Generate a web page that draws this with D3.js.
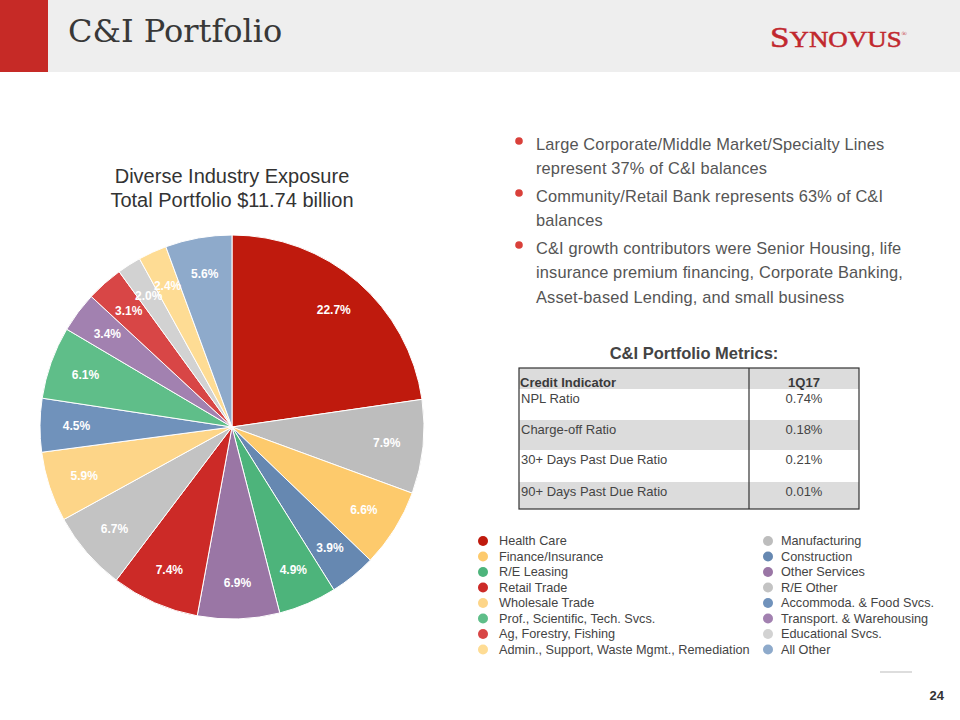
<!DOCTYPE html>
<html>
<head>
<meta charset="utf-8">
<script src="https://cdn.jsdelivr.net/npm/d3@7"></script>
<style>
  html, body { margin: 0; padding: 0; background: #ffffff; }
  svg { display: block; }
</style>
</head>
<body>
<div id="chart"></div>
<script>
// ---------- DATA ----------
const categories = [
  "Health Care", "Manufacturing", "Finance/Insurance", "Construction",
  "R/E Leasing", "Other Services", "Retail Trade", " R/E Other",
  "Wholesale Trade", "Accommoda. & Food Svcs.", "Prof., Scientific, Tech. Svcs.", "Transport. & Warehousing",
  "Ag, Forestry, Fishing", "Educational Svcs.", "Admin., Support, Waste Mgmt., Remediation", "All Other"
];
const shares = [22.7, 7.9, 6.6, 3.9, 4.9, 6.9, 7.4, 6.7, 5.9, 4.5, 6.1, 3.4, 3.1, 2.0, 2.4, 5.6];
const sliceColors = [
  "#bf1a0d", "#bdbdbd", "#fdca6c", "#6688b1",
  "#4db47b", "#9a76a5", "#cc2a27", "#c3c3c3",
  "#fdd588", "#7092bb", "#5fbe89", "#a281b0",
  "#d84646", "#d2d2d2", "#fedc94", "#8eaacb"
];
const chartTitle = ["Diverse Industry Exposure", "Total Portfolio $11.74 billion"];

const bullets = [
  ["Large Corporate/Middle Market/Specialty Lines", "represent 37% of C&I balances"],
  ["Community/Retail Bank represents 63% of C&I", "balances"],
  ["C&I growth contributors were Senior Housing, life", "insurance premium financing, Corporate Banking,", "Asset-based Lending, and small business"]
];

const tableTitle = "C&I Portfolio Metrics:";
const tableHeader = ["Credit Indicator", "1Q17"];
const metricLabels = ["NPL Ratio", "Charge-off Ratio", "30+ Days Past Due Ratio", "90+ Days Past Due Ratio"];
const metricValues = ["0.74%", "0.18%", "0.21%", "0.01%"];

const pageTitle = "C&I Portfolio";
const pageNumber = "24";

// ---------- DRAW ----------
const W = 960, H = 720;
const svg = d3.select("#chart").append("svg").attr("width", W).attr("height", H);
const sans = "'Liberation Sans', Arial, Helvetica, sans-serif";

// header band
svg.append("rect").attr("x", 0).attr("y", 0).attr("width", W).attr("height", 72).attr("fill", "#eeeeee");
svg.append("rect").attr("x", 0).attr("y", 0).attr("width", 48).attr("height", 72).attr("fill", "#c62a26");
svg.append("text").attr("x", 68).attr("y", 42)
  .attr("font-family", "'DejaVu Serif', serif").attr("font-size", 32)
  .attr("fill", "#383838").text(pageTitle);

// logo
const logo = svg.append("g").attr("transform", "translate(770,47) scale(1.17,1)")
  .append("text").attr("x", 0).attr("y", 0)
  .attr("font-family", "'Liberation Serif', 'Times New Roman', serif")
  .attr("fill", "#c1272d").attr("stroke", "#c1272d").attr("stroke-width", 0.5);
logo.append("tspan").attr("font-size", 30).text("S");
logo.append("tspan").attr("font-size", 23).text("YNOVUS");
logo.append("tspan").attr("font-size", 6).attr("stroke-width", 0).attr("dy", -11).text("®");

// chart title
chartTitle.forEach((t, i) => {
  svg.append("text").attr("x", 232).attr("y", 183 + i * 24)
    .attr("text-anchor", "middle").attr("font-family", sans)
    .attr("font-size", 20).attr("fill", "#333333").text(t);
});

// pie
const cx = 232, cy = 427, R = 192;
const pie = d3.pie().sort(null).value(d => d)(shares);
const arc = d3.arc().innerRadius(0).outerRadius(R);
const labelArc = d3.arc().innerRadius(R * 0.81).outerRadius(R * 0.81);
const g = svg.append("g").attr("transform", `translate(${cx},${cy})`);
g.selectAll("path.slice").data(pie).enter().append("path")
  .attr("class", "slice")
  .attr("d", arc)
  .attr("fill", (d, i) => sliceColors[i])
  .attr("stroke", "#ffffff").attr("stroke-width", 1);
g.selectAll("text.lbl").data(pie).enter().append("text")
  .attr("class", "lbl")
  .attr("transform", d => `translate(${labelArc.centroid(d)})`)
  .attr("text-anchor", "middle").attr("dy", "0.35em")
  .attr("font-family", sans).attr("font-weight", "bold").attr("font-size", 12)
  .attr("fill", "#ffffff")
  .text(d => d.data.toFixed(1) + "%");

// bullets
const bulletStarts = [144, 196, 248];
bullets.forEach((lines, bi) => {
  const y0 = bulletStarts[bi];
  svg.append("circle").attr("cx", 519).attr("cy", y0 - 3).attr("r", 3.8).attr("fill", "#d9403a");
  lines.forEach((ln, li) => {
    svg.append("text").attr("x", 536).attr("y", y0 + li * 24.5).attr("dy", "0.35em")
      .attr("font-family", sans).attr("font-size", 16.4).attr("letter-spacing", 0.15)
      .attr("fill", "#555555").text(ln);
  });
});

// table
svg.append("text").attr("x", 694).attr("y", 359).attr("text-anchor", "middle")
  .attr("font-family", sans).attr("font-weight", "bold").attr("font-size", 16.5)
  .attr("fill", "#444444").text(tableTitle);

const tx0 = 519, tx1 = 749, tx2 = 859;
const rowTops = [368, 389, 420, 450, 482, 509];
const rowFills = ["#dcdcdc", "#ffffff", "#dcdcdc", "#ffffff", "#dcdcdc"];
rowFills.forEach((f, i) => {
  svg.append("rect").attr("x", tx0).attr("y", rowTops[i]).attr("width", tx2 - tx0)
    .attr("height", rowTops[i + 1] - rowTops[i]).attr("fill", f);
});
svg.append("rect").attr("x", tx0).attr("y", rowTops[0]).attr("width", tx2 - tx0)
  .attr("height", rowTops[5] - rowTops[0]).attr("fill", "none")
  .attr("stroke", "#333333").attr("stroke-width", 1.2);
svg.append("line").attr("x1", tx1).attr("x2", tx1).attr("y1", rowTops[0]).attr("y2", rowTops[5])
  .attr("stroke", "#333333").attr("stroke-width", 1.2);

svg.append("text").attr("x", tx0 + 1).attr("y", 387)
  .attr("font-family", sans).attr("font-weight", "bold").attr("font-size", 13)
  .attr("fill", "#3a3a3a").text(tableHeader[0]);
svg.append("text").attr("x", 804).attr("y", 387).attr("text-anchor", "middle")
  .attr("font-family", sans).attr("font-weight", "bold").attr("font-size", 13)
  .attr("fill", "#3a3a3a").text(tableHeader[1]);
const rowTextY = [398, 429, 459, 491];
metricLabels.forEach((lab, i) => {
  svg.append("text").attr("x", tx0 + 2).attr("y", rowTextY[i]).attr("dy", "0.35em")
    .attr("font-family", sans).attr("font-size", 13).attr("fill", "#444444").text(lab);
  svg.append("text").attr("x", 804).attr("y", rowTextY[i]).attr("dy", "0.35em").attr("text-anchor", "middle")
    .attr("font-family", sans).attr("font-size", 13).attr("fill", "#444444").text(metricValues[i]);
});

// legend (two columns, interleaved)
categories.forEach((c, i) => {
  const col = i % 2, row = Math.floor(i / 2);
  const x = col === 0 ? 483 : 768;
  const tx = col === 0 ? 499 : 781;
  const y = 541 + row * 15.5;
  svg.append("circle").attr("cx", x).attr("cy", y).attr("r", 5).attr("fill", sliceColors[i]);
  svg.append("text").attr("x", tx).attr("y", y).attr("dy", "0.35em")
    .attr("font-family", sans).attr("font-size", 12.7).attr("fill", "#444444").text(c);
});

// page number
svg.append("line").attr("x1", 880).attr("x2", 912).attr("y1", 672).attr("y2", 672)
  .attr("stroke", "#dddddd").attr("stroke-width", 2);
svg.append("text").attr("x", 944).attr("y", 700).attr("text-anchor", "end")
  .attr("font-family", sans).attr("font-weight", "bold").attr("font-size", 13)
  .attr("fill", "#333333").text(pageNumber);
</script>
</body>
</html>
